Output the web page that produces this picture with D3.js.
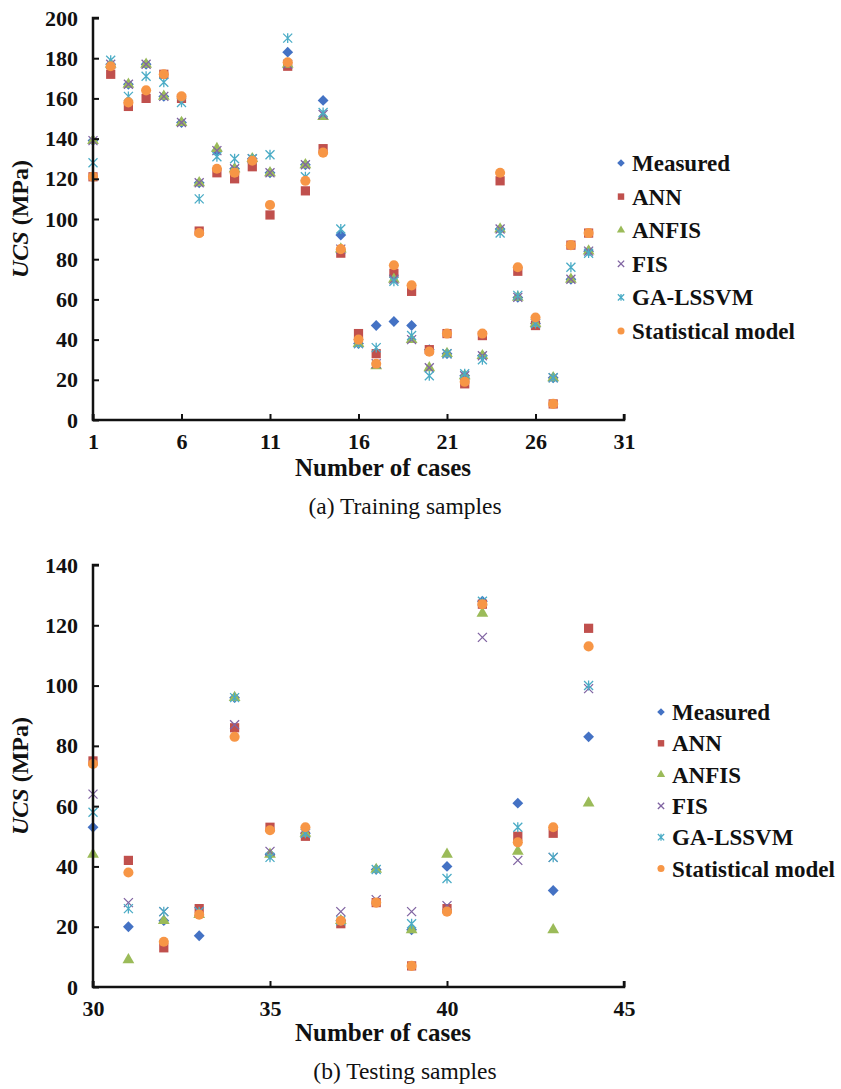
<!DOCTYPE html>
<html>
<head>
<meta charset="utf-8">
<script src="https://cdn.jsdelivr.net/npm/d3@7"></script>
<style>
  body { margin: 0; background: #fff; }
  svg { display: block; }
</style>
</head>
<body>
<div id="chart"></div>
<script>
const seriesNames = ["Measured", "ANN", "ANFIS", "FIS", "GA-LSSVM", "Statistical model"];
const seriesColors = ["#4472C4", "#C0504D", "#9BBB59", "#8064A2", "#4BACC6", "#F79646"];

// (a) training samples, cases 1..29
const trainCases = d3.range(1, 30);
const trainMeasured = [139, 177, 167, 177, 161, 148, 118, 134, 125, 130, 123, 183, 127, 159, 92, 38, 47, 49, 47, 35, 33, 22, 32, 95, 61, 48, 21, 70, 84];
const trainANN      = [121, 172, 156, 160, 172, 160, 94, 123, 120, 126, 102, 176, 114, 135, 83, 43, 33, 73, 64, 35, 43, 18, 42, 119, 74, 47, 8, 87, 93];
const trainANFIS    = [139, 177, 167, 177, 161, 148, 118, 135, 125, 130, 123, 177, 127, 151, 85, 38, 27, 70, 40, 26, 33, 22, 32, 95, 61, 48, 21, 70, 84];
const trainFIS      = [139, 177, 167, 177, 161, 148, 118, 134, 125, 130, 123, 177, 127, 152, 85, 38, 28, 70, 40, 26, 33, 22, 32, 95, 61, 48, 21, 70, 84];
const trainGA       = [128, 179, 161, 171, 168, 158, 110, 131, 130, 130, 132, 190, 121, 153, 95, 38, 36, 69, 42, 22, 33, 23, 30, 93, 62, 48, 21, 76, 83];
const trainStat     = [121, 176, 158, 164, 172, 161, 93, 125, 123, 129, 107, 178, 119, 133, 85, 40, 28, 77, 67, 34, 43, 19, 43, 123, 76, 51, 8, 87, 93];

// (b) testing samples, cases 30..44
const testCases = d3.range(30, 45);
const testMeasured = [53, 20, 22, 17, 96, 44, 51, 22, 39, 19, 40, 128, 61, 32, 83];
const testANN      = [75, 42, 13, 26, 86, 53, 50, 21, 28, 7, 26, 127, 50, 51, 119];
const testANFIS    = [44, 9, 22, 24, 96, 44, 51, 22, 39, 19, 44, 124, 45, 19, 61];
const testFIS      = [64, 28, 25, 25, 87, 45, 51, 25, 29, 25, 27, 116, 42, 43, 99];
const testGA       = [58, 26, 25, 25, 96, 43, 51, 22, 39, 21, 36, 128, 53, 43, 100];
const testStat     = [74, 38, 15, 24, 83, 52, 53, 22, 28, 7, 25, 127, 48, 53, 113];

const trainXTicks = [1, 6, 11, 16, 21, 26, 31];
const trainYTicks = [0, 20, 40, 60, 80, 100, 120, 140, 160, 180, 200];
const testXTicks = [30, 35, 40, 45];
const testYTicks = [0, 20, 40, 60, 80, 100, 120, 140];

const W = 841, H = 1089;
const svg = d3.select("#chart").append("svg").attr("width", W).attr("height", H);
const font = "'Liberation Serif', 'Times New Roman', serif";

// marker shapes
function markerPath(i, s) {
  if (i === 0) return d3.symbol().type(d3.symbolDiamond2).size(s * s * 0.75)();
  if (i === 1) return d3.symbol().type(d3.symbolSquare).size(s * s * 0.85)();
  if (i === 2) return d3.symbol().type(d3.symbolTriangle).size(s * s * 0.6)();
  if (i === 3) { const r = s * 0.45; return `M${-r},${-r}L${r},${r}M${-r},${r}L${r},${-r}`; }
  if (i === 4) { const r = s * 0.45; return `M${-r},${-r}L${r},${r}M${-r},${r}L${r},${-r}M0,${-r * 1.1}L0,${r * 1.1}`; }
  return d3.symbol().type(d3.symbolCircle).size(s * s * 0.8)();
}
function drawMarker(g, i, x, y, s) {
  const p = g.append("path").attr("d", markerPath(i, s)).attr("transform", `translate(${x},${y})`);
  if (i === 3 || i === 4) p.attr("fill", "none").attr("stroke", seriesColors[i]).attr("stroke-width", 1.3);
  else p.attr("fill", seriesColors[i]);
}

function drawPanel(opt) {
  const g = svg.append("g");
  const x = d3.scaleLinear().domain(opt.xDomain).range([opt.left, opt.right]);
  const y = d3.scaleLinear().domain(opt.yDomain).range([opt.bottom, opt.top]);

  // points
  opt.series.forEach((vals, i) => {
    vals.forEach((v, k) => drawMarker(g, i, x(opt.cases[k]), y(v), 10));
  });

  // axes with inward ticks
  const xAxis = g.append("g").attr("transform", `translate(0,${opt.bottom})`)
    .call(d3.axisBottom(x).tickValues(opt.xTicks).tickSize(-6).tickPadding(13).tickFormat(d3.format("d")));
  const yAxis = g.append("g").attr("transform", `translate(${opt.left},0)`)
    .call(d3.axisLeft(y).tickValues(opt.yTicks).tickSize(-6).tickPadding(15));
  [xAxis, yAxis].forEach(a => {
    a.select(".domain").attr("stroke", "#111").attr("stroke-width", 2.5);
    a.selectAll(".tick line").attr("stroke", "#111").attr("stroke-width", 2);
    a.selectAll(".tick text").attr("fill", "#111").attr("font-family", font)
      .attr("font-size", 22).attr("font-weight", "bold");
  });
  xAxis.select(".domain").attr("d", `M${opt.left},-6V0H${opt.right}V-6`);
  yAxis.select(".domain").attr("d", `M6,${opt.top}H0V${opt.bottom}`);

  // axis titles
  g.append("text").attr("x", 383).attr("y", opt.xTitleY)
    .attr("text-anchor", "middle").attr("font-family", font).attr("font-size", 25)
    .attr("font-weight", "bold").attr("fill", "#111").text("Number of cases");
  const yt = g.append("text").attr("transform", `translate(28,${(opt.top + opt.bottom) / 2}) rotate(-90)`)
    .attr("text-anchor", "middle").attr("font-family", font).attr("font-size", 24)
    .attr("font-weight", "bold").attr("fill", "#111");
  yt.append("tspan").attr("font-style", "italic").text("UCS");
  yt.append("tspan").text(" (MPa)");

  // caption
  g.append("text").attr("x", 405).attr("y", opt.captionY).attr("text-anchor", "middle")
    .attr("font-family", font).attr("font-size", 23.5).attr("fill", "#111").text(opt.caption);

  // legend
  const lg = g.append("g");
  seriesNames.forEach((name, i) => {
    const ly = opt.legendY + i * opt.legendStep;
    drawMarker(lg, i, opt.legendX, ly, 7);
    lg.append("text").attr("x", opt.legendX + 11).attr("y", ly).attr("dy", "0.35em")
      .attr("font-family", font).attr("font-size", 23).attr("font-weight", "bold")
      .attr("fill", "#111").text(name);
  });
}

drawPanel({
  cases: trainCases,
  series: [trainMeasured, trainANN, trainANFIS, trainFIS, trainGA, trainStat],
  xDomain: [1, 31], yDomain: [0, 200],
  left: 93, right: 624, top: 18, bottom: 420,
  xTicks: trainXTicks, yTicks: trainYTicks,
  xTitleY: 476, captionY: 514, caption: "(a) Training samples",
  legendX: 621, legendY: 163, legendStep: 33.6
});

drawPanel({
  cases: testCases,
  series: [testMeasured, testANN, testANFIS, testFIS, testGA, testStat],
  xDomain: [30, 45], yDomain: [0, 140],
  left: 93, right: 624, top: 565, bottom: 987,
  xTicks: testXTicks, yTicks: testYTicks,
  xTitleY: 1041, captionY: 1079, caption: "(b) Testing samples",
  legendX: 661, legendY: 712, legendStep: 31.3
});
</script>
</body>
</html>
